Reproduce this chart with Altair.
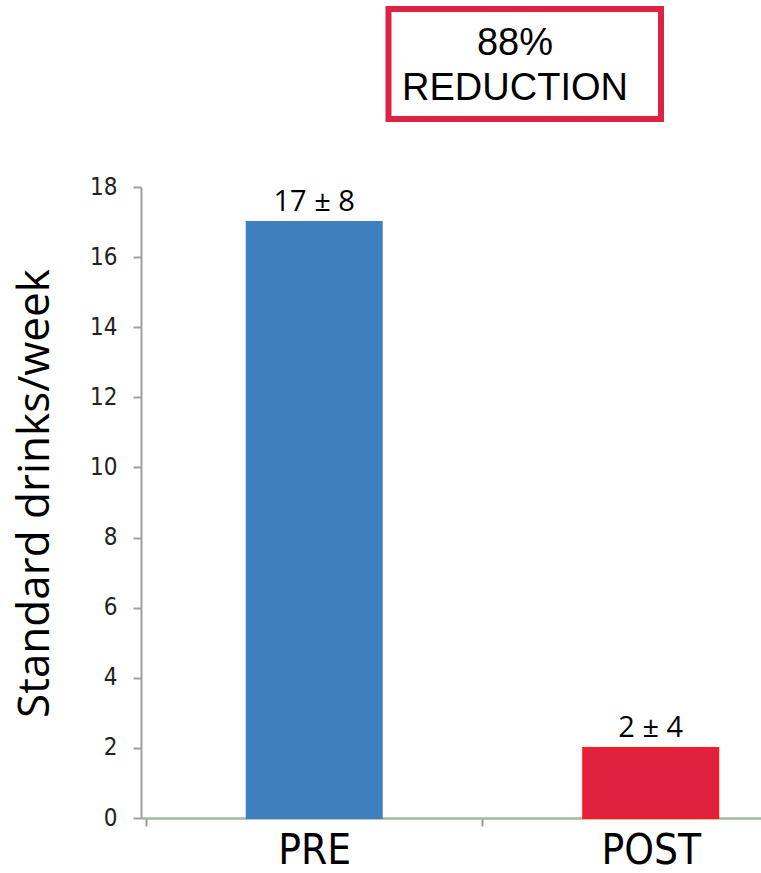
import altair as alt
import pandas as pd

# Weekly drinking before and after treatment (mean ± SD)
categories = ["PRE", "POST"]
means = [17, 2]
sds = [8, 4]
bar_fills = ["#3f7fbf", "#e0203f"]
bar_edges = ["#3f7fbf", "#ff1a1a"]
y_ticks = [0, 2, 4, 6, 8, 10, 12, 14, 16, 18]
callout_lines = ["88%", "REDUCTION"]

df = pd.DataFrame({
    "group": categories,
    "mean": means,
    "sd": sds,
    "pos": [i + 0.5 for i in range(len(categories))],
    "label": [f"{m} \u00b1 {s}" for m, s in zip(means, sds)],
})

# category names written under each category centre; plain ticks at the boundaries
label_expr = " : ".join(
    f"datum.value === {i + 0.5} ? '{c}'" for i, c in enumerate(categories)
) + " : ''"

narrow = "Liberation Sans Narrow, Arial Narrow, DejaVu Sans Condensed, sans-serif"
body = "Open Sans, Noto Sans, sans-serif"
plain = "Liberation Sans, Arial, sans-serif"

x_scale = alt.Scale(domain=[0, 1.813], nice=False, zero=False)
y_scale = alt.Scale(domain=[0, 18], nice=False)

x_axis = alt.Axis(
    values=[0, 0.5, 1, 1.5],
    labelExpr=label_expr,
    title=None,
    grid=False,
    domainColor="#a6b6a6",
    domainWidth=2.5,
    tickColor="#9a9a9a",
    tickWidth=2,
    tickSize=8,
    tickOpacity={"condition": {"test": "datum.value % 1 === 0", "value": 1}, "value": 0},
    labelFont=narrow,
    labelFontSize=42,
    labelColor="#000000",
    labelPadding=4,
    labelFlush=False,
    labelOverlap=False,
)

y_axis = alt.Axis(
    values=y_ticks,
    title="Standard drinks/week",
    grid=False,
    domainColor="#a0a0a0",
    domainWidth=2,
    tickColor="#a0a0a0",
    tickWidth=2,
    tickSize=8,
    labelFont=narrow,
    labelFontSize=24,
    labelColor="#222222",
    labelPadding=16,
    titleFont=body,
    titleFontSize=44,
    titleFontWeight="normal",
    titleColor="#000000",
    titleAngle=270,
    titleAlign="center",
    titleBaseline="middle",
    titleX=-106,
    titleY=306,
)

base = alt.Chart(df)

bars = base.mark_bar(size=135, strokeWidth=2, orient="vertical").encode(
    x=alt.X("pos:Q", scale=x_scale, axis=x_axis),
    y=alt.Y("mean:Q", scale=y_scale, axis=y_axis),
    y2=alt.datum(0),
    color=alt.Color("group:N", scale=alt.Scale(domain=categories, range=bar_fills), legend=None),
    stroke=alt.Stroke("group:N", scale=alt.Scale(domain=categories, range=bar_edges), legend=None),
)

values_text = base.mark_text(
    baseline="alphabetic", dy=-11, font=body, fontSize=29, color="#000000"
).encode(
    x=alt.X("pos:Q", scale=x_scale),
    y=alt.Y("mean:Q", scale=y_scale),
    text="label:N",
)

# framed call-out above the plot
callout_df = pd.DataFrame({"lines": [callout_lines]})

frame = alt.Chart(callout_df).mark_rect(
    fill="#ffffff", stroke="#dc2342", strokeWidth=6
).encode(
    x=alt.value(247.5), x2=alt.value(520),
    y=alt.value(-178), y2=alt.value(-68),
)

callout = alt.Chart(callout_df).mark_text(
    font=plain, fontSize=38, color="#000000", align="center",
    baseline="alphabetic", lineHeight=45,
).encode(
    x=alt.value(374), y=alt.value(-132),
    text="lines",
)

chart = alt.layer(bars, values_text, frame, callout).properties(
    width=620,
    height=631,
    autosize=alt.AutoSizeParams(type="none"),
    padding={"left": 141, "top": 187, "right": 0, "bottom": 55},
    background="#ffffff",
).configure_view(stroke=None)

chart.save("out.html", embed_options={"renderer": "svg", "actions": False})
